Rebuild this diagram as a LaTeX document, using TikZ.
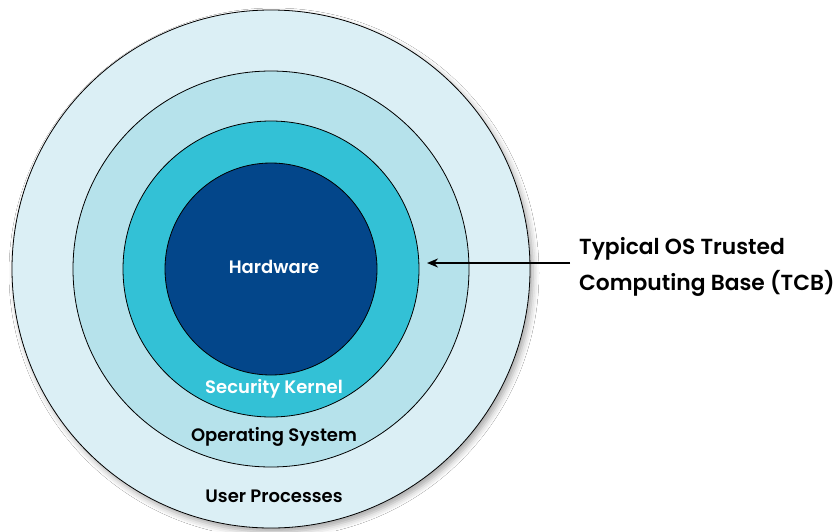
\documentclass[tikz,border=0pt]{standalone}
\usepackage{fontspec}
\setmainfont{Poppins}
\newfontfamily\popsemi{Poppins SemiBold}
\usetikzlibrary{arrows.meta,shadows.blur}
\definecolor{cUser}{HTML}{DBEFF5}
\definecolor{cOS}{HTML}{B6E2EB}
\definecolor{cKern}{HTML}{33C1D6}
\definecolor{cHW}{HTML}{03468A}
\tikzset{
  ring/.style={circle, draw=black, line width=0.8pt, inner sep=0pt},
  lbl/.style={font=\popsemi\fontsize{18}{22}\selectfont, inner sep=0pt},
  side/.style={font=\popsemi\fontsize{21.8}{36}\selectfont, inner sep=0pt, align=left, anchor=west},
  pointer/.style={line width=1.8pt, -{Stealth[length=11pt,width=9pt]}}
}
\begin{document}
\begin{tikzpicture}[x=1pt,y=-1pt]
\useasboundingbox (0,0) rectangle (839,531);
\fill[white] (0,0) rectangle (839,531);
\coordinate (c) at (271,269);
\node[ring, fill=cUser, minimum size=518pt,
  blur shadow={shadow xshift=3pt, shadow yshift=-4pt, shadow blur radius=6pt, shadow opacity=35}] (user) at (c) {};
\node[ring, fill=cOS, minimum size=396pt] (os) at (c) {};
\node[ring, fill=cKern, minimum size=296pt] (kernel) at (c) {};
\node[ring, fill=cHW, minimum size=212pt] (hw) at (c) {};
\node[lbl, text=white] (hwl) at (274,267) {Hardware};
\node[lbl, text=white] (kl) at (274,389) {Security Kernel};
\node[lbl, text=black] (osl) at (274,437) {Operating System};
\node[lbl, text=black] (ul) at (274,496) {User Processes};
\node[side] (tcb) at (579,267) {Typical OS Trusted\\Computing Base (TCB)};
\coordinate (tip) at (427,263);
\draw[pointer] (tcb.west |- tip) ++(-9,0) coordinate (tail) (tail) -- (tip);
\end{tikzpicture}
\end{document}
